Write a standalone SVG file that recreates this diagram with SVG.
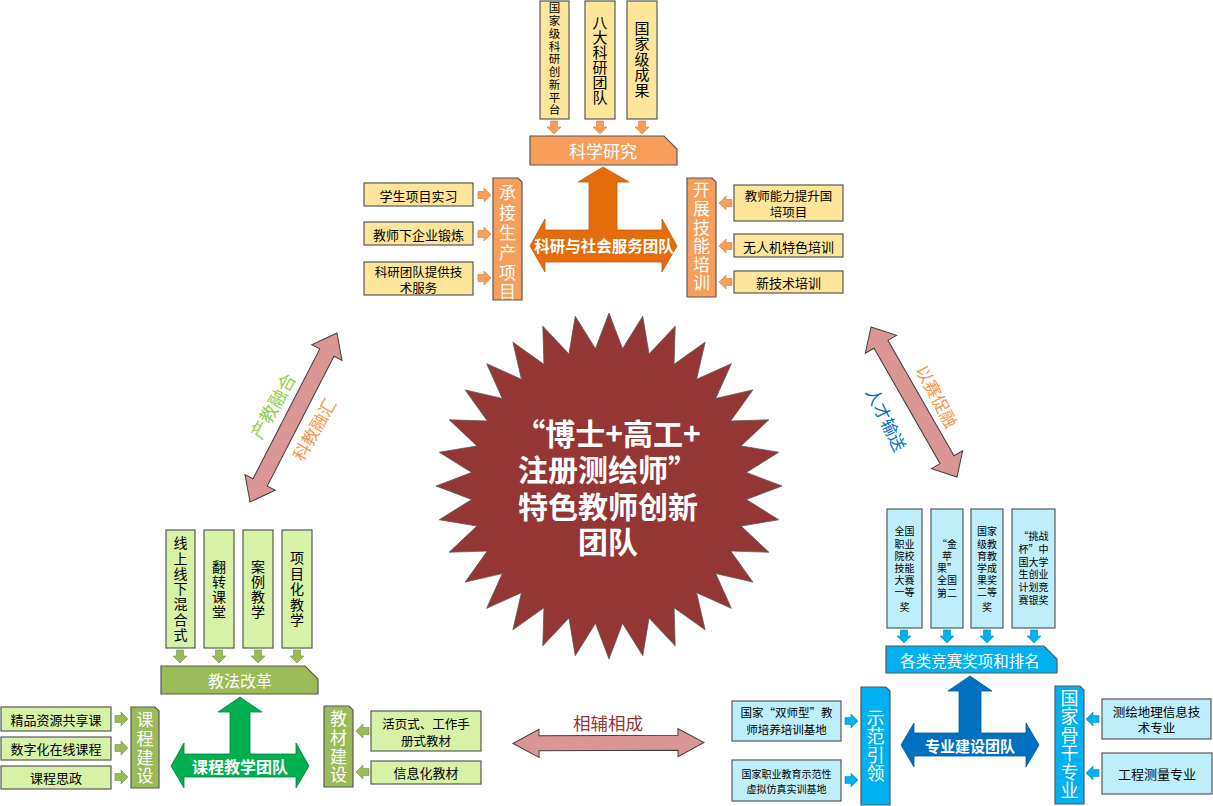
<svg xmlns="http://www.w3.org/2000/svg" width="1213" height="806" viewBox="0 0 1213 806">
<style>
text{font-family:"Noto Sans CJK SC","Noto Sans",sans-serif;text-anchor:middle;dominant-baseline:central;fill:#000;font-size:13px}
.v{writing-mode:vertical-rl}
.w{fill:#fff}
.b{font-weight:bold}
.by{fill:#FDE59A;stroke:#595959;stroke-width:1.2}
.bg{fill:#D7F1A6;stroke:#595959;stroke-width:1.2}
.bb{fill:#BDEEFA;stroke:#595959;stroke-width:1.2}
.ho{fill:#F79E5B;stroke:#595959;stroke-width:1.2}
.hg{fill:#9BBB59;stroke:#595959;stroke-width:1.2}
.hb{fill:#00B0F0;stroke:#595959;stroke-width:1.2}
.ao{fill:#F79E5B;stroke:#E07A2E;stroke-width:0.6}
.ag{fill:#9BBB59;stroke:#76923C;stroke-width:0.6}
.ab{fill:#00B0F0;stroke:#0090C8;stroke-width:0.6}
.dbl{fill:#D99694;stroke:#404040;stroke-width:1}
.s{font-size:10px}
</style>
<defs>
<path id="ar" d="M0,-3.5 H6 V-7 L13,0 L6,7 V3.5 H0 Z"/>
</defs>

<!-- connectors -->
<g id="connectors">
<use href="#ar" class="ao" transform="translate(554,121) rotate(90)"/>
<use href="#ar" class="ao" transform="translate(600,121) rotate(90)"/>
<use href="#ar" class="ao" transform="translate(642,121) rotate(90)"/>
<use href="#ar" class="ao" transform="translate(478,195)"/>
<use href="#ar" class="ao" transform="translate(478,234)"/>
<use href="#ar" class="ao" transform="translate(478,278)"/>
<use href="#ar" class="ao" transform="translate(732,203) rotate(180)"/>
<use href="#ar" class="ao" transform="translate(732,246) rotate(180)"/>
<use href="#ar" class="ao" transform="translate(732,282) rotate(180)"/>

<use href="#ar" class="ag" transform="translate(180,650) rotate(90)"/>
<use href="#ar" class="ag" transform="translate(219,650) rotate(90)"/>
<use href="#ar" class="ag" transform="translate(258,650) rotate(90)"/>
<use href="#ar" class="ag" transform="translate(297,650) rotate(90)"/>
<use href="#ar" class="ag" transform="translate(115,719)"/>
<use href="#ar" class="ag" transform="translate(115,748)"/>
<use href="#ar" class="ag" transform="translate(115,777)"/>
<use href="#ar" class="ag" transform="translate(369,731) rotate(180)"/>
<use href="#ar" class="ag" transform="translate(369,772) rotate(180)"/>

<use href="#ar" class="ab" transform="translate(904,630) rotate(90)"/>
<use href="#ar" class="ab" transform="translate(947,630) rotate(90)"/>
<use href="#ar" class="ab" transform="translate(987,630) rotate(90)"/>
<use href="#ar" class="ab" transform="translate(1034,630) rotate(90)"/>
<use href="#ar" class="ab" transform="translate(845,721)"/>
<use href="#ar" class="ab" transform="translate(845,780)"/>
<use href="#ar" class="ab" transform="translate(1099,719) rotate(180)"/>
<use href="#ar" class="ab" transform="translate(1099,773) rotate(180)"/>

<path class="dbl" transform="translate(293.5,417.5) rotate(-62.8)" d="M-95,0 L-73,-17 L-73,-8 L73,-8 L73,-17 L95,0 L73,17 L73,8 L-73,8 L-73,17 Z"/>
<path class="dbl" transform="translate(914,402) rotate(60.2)" d="M-86.5,0 L-66.5,-18 L-66.5,-8 L66.5,-8 L66.5,-18 L86.5,0 L66.5,18 L66.5,8 L-66.5,8 L-66.5,18 Z"/>
<path class="dbl" transform="translate(608.5,743) rotate(-0.3)" d="M-95.5,0 L-69.5,-14 L-69.5,-7.5 L69.5,-7.5 L69.5,-14 L95.5,0 L69.5,14 L69.5,7.5 L-69.5,7.5 L-69.5,14 Z"/>
<text x="272" y="405.5" transform="rotate(-60.5 272 405.5)" style="fill:#92D050;font-size:18px">产教融合</text>
<text x="313.5" y="429" transform="rotate(-60 313.5 429)" style="fill:#F79646;font-size:17px">科教融汇</text>
<text x="937.5" y="396" transform="rotate(62 937.5 396)" style="fill:#F79646;font-size:17px">以赛促融</text>
<text x="887" y="419" transform="rotate(64 887 419)" style="fill:#0070C0;font-size:17px">人才输送</text>
<text x="608" y="722" style="fill:#953735;font-size:17.5px">相辅相成</text>
</g>

<!-- center star -->
<g id="center">
<polygon fill="#943634" stroke="#5a5a5a" stroke-width="0.8" points="609,313 622.53,348.67 642.75,316.32 649.06,353.94 675.2,326.17 674.05,364.3 705.11,342.16 696.55,379.32 731.33,363.67 715.68,398.45 752.84,389.89 730.7,420.95 768.83,419.8 741.06,445.94 778.68,452.25 746.33,472.47 782,486 746.33,499.53 778.68,519.75 741.06,526.06 768.83,552.2 730.7,551.05 752.84,582.11 715.68,573.55 731.33,608.33 696.55,592.68 705.11,629.84 674.05,607.7 675.2,645.83 649.06,618.06 642.75,655.68 622.53,623.33 609,659 595.47,623.33 575.25,655.68 568.94,618.06 542.8,645.83 543.95,607.7 512.89,629.84 521.45,592.68 486.67,608.33 502.32,573.55 465.16,582.11 487.3,551.05 449.17,552.2 476.94,526.06 439.32,519.75 471.67,499.53 436,486 471.67,472.47 439.32,452.25 476.94,445.94 449.17,419.8 487.3,420.95 465.16,389.89 502.32,398.45 486.67,363.67 521.45,379.32 512.89,342.16 543.95,364.3 542.8,326.17 568.94,353.94 575.25,316.32 595.47,348.67"/>
<text class="w b" style="font-size:30px"><tspan x="608" y="432">“博士+高工+</tspan><tspan x="608" y="468">注册测绘师”</tspan><tspan x="608" y="505">特色教师创新</tspan><tspan x="608" y="540">团队</tspan></text>
</g>

<!-- orange: research & social service -->
<g id="n-pingtai"><rect class="by" x="540" y="1" width="29" height="118"/>
<text class="v" x="554.5" y="59.6" style="font-size:11.5px;letter-spacing:1.25px">国家级科研创新平台</text></g>
<g id="n-bada"><rect class="by" x="585" y="1" width="30" height="118"/>
<text class="v" x="600" y="59.5" style="font-size:15px">八大科研团队</text></g>
<g id="n-chengguo"><rect class="by" x="627" y="1" width="30" height="118"/>
<text class="v" x="642" y="59.2" style="font-size:15px;letter-spacing:0.5px">国家级成果</text></g>
<g id="n-kexueyanjiu"><path class="ho" d="M530,136 H664 L677,149 V165 H530 Z"/>
<text class="w" x="603" y="150" style="font-size:17px">科学研究</text></g>
<g id="n-team-orange"><path fill="#E46C0A" stroke="#C55A11" stroke-width="0.8" d="M603,167 L629,182 L617,182 L617,230 L662,230 L662,219 L677,246 L662,272 L662,262 L545,262 L545,272 L530,246 L545,219 L545,230 L589,230 L589,182 L578,182 Z"/>
<text class="w b" x="604" y="245" style="font-size:15.5px">科研与社会服务团队</text></g>
<g id="n-chengjie"><path class="ho" d="M493,178 H518 L522,182 V300 H493 Z"/>
<text class="v w" x="507.5" y="243.9" style="font-size:17px;letter-spacing:2.8px">承接生产项目</text></g>
<g id="n-shixi"><rect class="by" x="364" y="183" width="109" height="23"/><text x="418.5" y="195">学生项目实习</text></g>
<g id="n-duanlian"><rect class="by" x="364" y="222" width="109" height="23"/><text x="418.5" y="234">教师下企业锻炼</text></g>
<g id="n-jishufuwu"><rect class="by" x="364" y="262" width="109" height="33"/><text style="font-size:12.5px"><tspan x="418.5" y="271">科研团队提供技</tspan><tspan x="418.5" y="286.5">术服务</tspan></text></g>
<g id="n-kaizhan"><path class="ho" d="M687,178 H712 L716,182 V297 H687 Z"/>
<text class="v w" x="701.5" y="237.3" style="font-size:17px;letter-spacing:1.6px">开展技能培训</text></g>
<g id="n-guopei"><rect class="by" x="734" y="185" width="109" height="36"/><text style="font-size:12.5px"><tspan x="788.5" y="194.5">教师能力提升国</tspan><tspan x="788.5" y="210.5">培项目</tspan></text></g>
<g id="n-wurenji"><rect class="by" x="734" y="234" width="109" height="23"/><text x="788.5" y="246">无人机特色培训</text></g>
<g id="n-xinjishu"><rect class="by" x="734" y="271" width="109" height="22"/><text x="788.5" y="282">新技术培训</text></g>

<!-- green: course teaching -->
<g id="n-hunhe"><rect class="bg" x="166" y="530" width="29" height="118"/>
<text class="v" x="180.5" y="589.5" style="font-size:14px;letter-spacing:1.3px">线上线下混合式</text></g>
<g id="n-fanzhuan"><rect class="bg" x="204" y="530" width="30" height="118"/>
<text class="v" x="219" y="590" style="font-size:14px;letter-spacing:1px">翻转课堂</text></g>
<g id="n-anli"><rect class="bg" x="243" y="530" width="30" height="118"/>
<text class="v" x="258" y="590" style="font-size:14px;letter-spacing:1px">案例教学</text></g>
<g id="n-xiangmuhua"><rect class="bg" x="282" y="530" width="30" height="118"/>
<text class="v" x="297" y="589.7" style="font-size:14px;letter-spacing:1.5px">项目化教学</text></g>
<g id="n-jiaofa"><path class="hg" d="M161,666 H305 L318,679 V694 H161 Z"/>
<text class="w" x="240" y="680" style="font-size:16px">教法改革</text></g>
<g id="n-team-green"><path fill="#00B050" stroke="#00843C" stroke-width="0.8" d="M240,697 L262,712 L250,712 L250,754 L296,754 L296,743 L309,766 L296,788 L296,777 L184,777 L184,788 L171,766 L184,743 L184,754 L230,754 L230,712 L218,712 Z"/>
<text class="w b" x="240" y="766" style="font-size:16px">课程教学团队</text></g>
<g id="n-jingpin"><rect class="bg" x="1" y="707" width="110" height="24"/><text x="56" y="719">精品资源共享课</text></g>
<g id="n-shuzihua"><rect class="bg" x="1" y="737" width="110" height="23"/><text x="56" y="748.5">数字化在线课程</text></g>
<g id="n-sizheng"><rect class="bg" x="1" y="766" width="110" height="23"/><text x="56" y="777.5">课程思政</text></g>
<g id="n-kecheng"><path class="hg" d="M131,707 H155 L159,711 V788 H131 Z"/>
<text class="v w" x="145" y="748.8" style="font-size:17px;letter-spacing:1.7px">课程建设</text></g>
<g id="n-jiaocai"><path class="hg" d="M324,706 H349 L353,710 V787 H324 Z"/>
<text class="v w" x="338.5" y="747.8" style="font-size:17px;letter-spacing:1.7px">教材建设</text></g>
<g id="n-huoye"><rect class="bg" x="371" y="711" width="110" height="40"/><text style="font-size:12.5px"><tspan x="426" y="722.5">活页式、工作手</tspan><tspan x="426" y="739.5">册式教材</tspan></text></g>
<g id="n-xinxihua"><rect class="bg" x="371" y="761" width="110" height="23"/><text x="426" y="772.5">信息化教材</text></g>

<!-- blue: major construction -->
<g id="n-dasai"><rect class="bb" x="887" y="509" width="35" height="119"/>
<text class="s"><tspan x="904.5" y="530">全国</tspan><tspan x="904.5" y="542.5">职业</tspan><tspan x="904.5" y="555">院校</tspan><tspan x="904.5" y="567">技能</tspan><tspan x="904.5" y="579">大赛</tspan><tspan x="904.5" y="591">一等</tspan><tspan x="904.5" y="606">奖</tspan></text></g>
<g id="n-jinpingguo"><rect class="bb" x="931" y="509" width="32" height="119"/>
<text class="s"><tspan x="947" y="543">“金</tspan><tspan x="947" y="555">苹</tspan><tspan x="947" y="567">果”</tspan><tspan x="947" y="579">全国</tspan><tspan x="947" y="592">第二</tspan></text></g>
<g id="n-jiaoxuechengguo"><rect class="bb" x="971" y="509" width="32" height="119"/>
<text class="s"><tspan x="987" y="530">国家</tspan><tspan x="987" y="542.5">级教</tspan><tspan x="987" y="555">育教</tspan><tspan x="987" y="567">学成</tspan><tspan x="987" y="579">果奖</tspan><tspan x="987" y="591">二等</tspan><tspan x="987" y="606">奖</tspan></text></g>
<g id="n-tiaozhanbei"><rect class="bb" x="1012" y="509" width="43" height="119"/>
<text class="s"><tspan x="1033.5" y="535">“挑战</tspan><tspan x="1033.5" y="548">杯”中</tspan><tspan x="1033.5" y="561">国大学</tspan><tspan x="1033.5" y="573">生创业</tspan><tspan x="1033.5" y="585.5">计划竞</tspan><tspan x="1033.5" y="599">赛银奖</tspan></text></g>
<g id="n-jingsai"><path class="hb" d="M886,646 H1044 L1057,659 V673 H886 Z"/>
<text class="w" x="970" y="660" style="font-size:15.5px">各类竞赛奖项和排名</text></g>
<g id="n-team-blue"><path fill="#0070C0" stroke="#005A9C" stroke-width="0.8" d="M970,676 L992,691 L981,691 L981,733 L1026,733 L1026,723 L1039,745 L1026,767 L1026,756 L914,756 L914,767 L901,745 L914,723 L914,733 L959,733 L959,691 L948,691 Z"/>
<text class="w b" x="970" y="745" style="font-size:15px">专业建设团队</text></g>
<g id="n-shifan"><path class="hb" d="M861,687 H886 L890,691 V805 H861 Z"/>
<text class="v w" x="875.5" y="745.7" style="font-size:18px;letter-spacing:0.3px">示范引领</text></g>
<g id="n-shuangshi"><rect class="bb" x="732" y="701" width="109" height="40"/><text style="font-size:11.5px"><tspan x="786.5" y="712">国家“双师型”教</tspan><tspan x="786.5" y="728.5">师培养培训基地</tspan></text></g>
<g id="n-fangzhen"><rect class="bb" x="732" y="760" width="109" height="41"/><text style="font-size:10px"><tspan x="786.5" y="773">国家职业教育示范性</tspan><tspan x="786.5" y="787.5">虚拟仿真实训基地</tspan></text></g>
<g id="n-gugan"><path class="hb" d="M1055,686 H1080 L1084,690 V804 H1055 Z"/>
<text class="v w" x="1069.5" y="744.5" style="font-size:18px;letter-spacing:0.5px">国家骨干专业</text></g>
<g id="n-cehui"><rect class="bb" x="1102" y="699" width="109" height="40"/><text style="font-size:12.5px"><tspan x="1156.5" y="711">测绘地理信息技</tspan><tspan x="1156.5" y="727">术专业</tspan></text></g>
<g id="n-gongcheng"><rect class="bb" x="1102" y="753" width="110" height="41"/><text x="1157" y="773">工程测量专业</text></g>
</svg>
